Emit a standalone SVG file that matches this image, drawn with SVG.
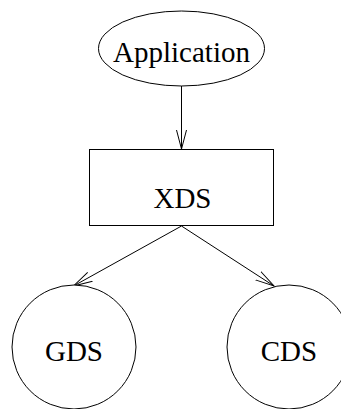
<svg xmlns="http://www.w3.org/2000/svg" width="341" height="409" viewBox="0 0 341 409">
<style>
.shape{fill:#fff;stroke:#000;stroke-width:1}
.lbl{font-family:"Liberation Serif","Times New Roman",serif;font-size:29px;fill:#000;text-anchor:middle}
.edge{fill:none;stroke:#000;stroke-width:1}
</style>
<defs>
<marker id="arr" markerUnits="userSpaceOnUse" markerWidth="24" markerHeight="14" refX="19" refY="6" orient="auto" viewBox="0 0 24 14">
<path d="M0,1 L19,6 L0,11" fill="none" stroke="#000" stroke-width="1"/>
</marker>
</defs>
<rect width="341" height="409" fill="#fff"/>
<g id="edges">
<line class="edge" x1="181.5" y1="86" x2="181.5" y2="149" marker-end="url(#arr)"/>
<line class="edge" x1="181.5" y1="226" x2="73.5" y2="286" marker-end="url(#arr)"/>
<line class="edge" x1="181.5" y1="226" x2="274" y2="286" marker-end="url(#arr)"/>
</g>
<g id="application">
<ellipse class="shape" cx="181.5" cy="48.5" rx="83" ry="37.5"/>
<text class="lbl" x="181.5" y="61.5">Application</text>
</g>
<g id="xds">
<rect class="shape" x="89.5" y="149.5" width="184" height="76"/>
<text class="lbl" x="182.5" y="208">XDS</text>
</g>
<g id="gds">
<circle class="shape" cx="74" cy="347" r="62"/>
<text class="lbl" x="74" y="361">GDS</text>
</g>
<g id="cds">
<circle class="shape" cx="289" cy="347" r="62"/>
<text class="lbl" x="289" y="361">CDS</text>
</g>
</svg>
